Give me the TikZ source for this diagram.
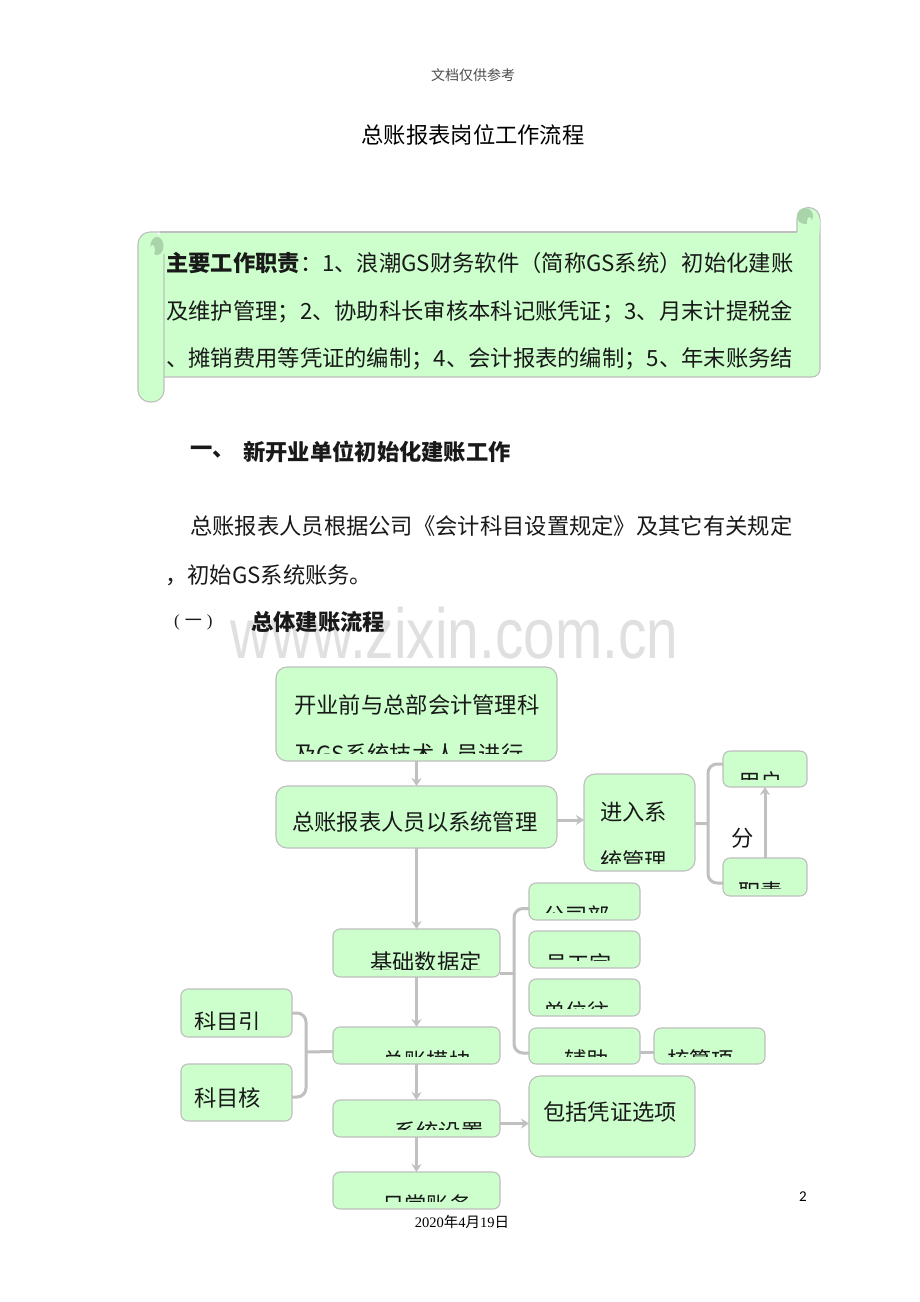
\documentclass[tikz,border=0pt]{standalone}
\usepackage{fontspec}
\setmainfont{Noto Sans CJK SC}
\newfontfamily\wmfont{Liberation Sans}
\newfontfamily\serfont{Liberation Serif}
\newfontfamily\numfont{Carlito}
\usetikzlibrary{arrows.meta}
\definecolor{boxfill}{HTML}{CCFFCC}
\definecolor{boxline}{HTML}{BEBEBE}
\definecolor{conncol}{HTML}{C0C0C0}
\definecolor{rolldark}{HTML}{A9D3A9}
\newcommand\myfs[1]{\fontsize{#1}{#1}\selectfont}
\newcommand\mkbox[6]{\node[#1, minimum width={(#4-#2)*1pt}, minimum height={(#5-#3)*1pt}] (#6) at ({(#2+#4)/2},{(#3+#5)/2}) {};}
\newcommand\cliptext[5]{\begin{scope}\clip ([yshift=8pt]#1.south west) rectangle (#1.north east);\node[txt, anchor=base west, text depth=0pt] (#5) at (#2,{#3+8.5}) {#4};\end{scope}}
\begin{document}
\begin{tikzpicture}[x=1pt,y=-1pt,
  box/.style={draw=boxline, fill=boxfill, line width=1.1pt, rounded corners=7pt, inner sep=0pt, outer sep=0pt},
  bigbox/.style={box, rounded corners=11pt},
  txt/.style={inner sep=0pt, anchor=west, font=\myfs{22.3}, text=black!90},
  cn/.style={draw=conncol, line width=3pt},
  arr/.style={cn, -{Stealth[length=8pt,width=10pt]}},
  sline/.style={draw=boxline, line width=1.1pt}
]
\useasboundingbox[fill=white] (0,0) rectangle (920,1302);

% watermark (behind everything)
\node[anchor=base west, inner sep=0pt, font=\wmfont\myfs{71}, text=black!12] (wm) at (230,658) {\scalebox{0.8}[1]{www.zixin.com.cn}};

% header and title
\node[inner sep=0pt, font=\myfs{14}, text=black!70] (hdr) at (473,75) {文档仅供参考};
\node[inner sep=0pt, font=\myfs{22.3}, text=black] (title) at (473,135) {总账报表岗位工作流程};

% scroll
\fill[boxfill] (160,232) -- (820,232) -- (820,369) arc[start angle=0,end angle=-90,radius=8pt] -- (160,377) -- cycle;
\draw[sline] (160,232) -- (797,232);
\draw[sline] (820,219) -- (820,369) arc[start angle=0,end angle=-90,radius=8pt] -- (160,377);
\fill[boxfill] (797,233) -- (797,219) arc[start angle=180,end angle=0,radius=11.5pt] -- (819.5,233) -- cycle;
\draw[sline] (797,232) -- (797,219) arc[start angle=180,end angle=0,radius=11.5pt];
\fill[rolldark] (805,216) circle (8pt);
\fill[boxfill] (809.5,222) ellipse [x radius=2.5pt, y radius=5pt];
\fill[boxfill, rounded corners=12pt] (138,232) rectangle (164,402);
\draw[sline, rounded corners=12pt] (164,254) -- (164,402) -- (138,402) -- (138,232) -- (175,232);
\fill[rolldark] (157,246) ellipse [x radius=6.5pt, y radius=9pt];
\fill[boxfill] (152.5,250) ellipse [x radius=2.5pt, y radius=5pt];

\node[txt] (s1) at (166,263) {\textbf{主要工作职责}：1、浪潮GS财务软件（简称GS系统）初始化建账};
\node[txt] (s2) at (166,312) {及维护管理；2、协助科长审核本科记账凭证；3、月末计提税金};
\node[txt] (s3) at (166,359) {、摊销费用等凭证的编制；4、会计报表的编制；5、年末账务结};

% headings and paragraph
\node[txt, font=\myfs{22.3}\bfseries] (h1a) at (190,452) {一、};
\node[txt, font=\myfs{22.3}\bfseries] (h1b) at (243,452) {新开业单位初始化建账工作};
\node[txt] (p1) at (190,526) {总账报表人员根据公司《会计科目设置规定》及其它有关规定};
\node[txt] (p2) at (165,575) {，初始GS系统账务。};
\node[txt, font=\myfs{17}] (h2a) at (174,622) {{\serfont(}\hspace{5pt}一\hspace{5pt}{\serfont)}};
\node[txt, font=\myfs{22.3}\bfseries] (h2b) at (251,622) {总体建账流程};

% boxes
\mkbox{bigbox}{276}{667}{557}{761}{b1}
\mkbox{bigbox}{276}{786}{557}{848}{b2}
\mkbox{bigbox}{584}{774}{695}{871}{b3}
\mkbox{box}{723}{751}{807}{787}{b4}
\mkbox{box}{723}{858}{807}{896}{b5}
\mkbox{box}{333}{929}{500}{977}{b6}
\mkbox{box}{529}{883}{640}{920}{b7}
\mkbox{box}{529}{931}{640}{968}{b8}
\mkbox{box}{529}{979}{640}{1016}{b9}
\mkbox{box}{529}{1028}{640}{1064}{b10}
\mkbox{box}{654}{1028}{765}{1064}{b11}
\mkbox{box}{333}{1027}{500}{1064}{b12}
\mkbox{box}{181}{989}{292}{1037}{b13}
\mkbox{box}{181}{1064}{292}{1121}{b14}
\mkbox{box}{333}{1100}{500}{1137}{b15}
\mkbox{bigbox}{529}{1076}{695}{1157}{b16}
\mkbox{box}{333}{1172}{500}{1209}{b17}

% box texts
\cliptext{b1}{294}{705}{开业前与总部会计管理科}{t1a}
\cliptext{b1}{294}{754}{及GS系统技术人员进行}{t1b}
\cliptext{b2}{292}{822}{总账报表人员以系统管理}{t2}
\cliptext{b3}{600}{812}{进入系}{t3a}
\cliptext{b3}{600}{861}{统管理}{t3b}
\cliptext{b4}{738}{782}{用户}{t4}
\cliptext{b5}{738}{892}{职责}{t5}
\cliptext{b6}{370}{962}{基础数据定}{t6}
\cliptext{b7}{543}{916}{公司部}{t7}
\cliptext{b8}{545}{964}{员工定}{t8}
\cliptext{b9}{543}{1012}{单位往}{t9}
\cliptext{b10}{564}{1060}{辅助}{t10}
\cliptext{b11}{667}{1060}{核算项}{t11}
\cliptext{b12}{382}{1061}{总账模块}{t12}
\cliptext{b13}{194}{1022}{科目引}{t13}
\cliptext{b14}{194}{1098}{科目核}{t14}
\cliptext{b15}{394}{1132}{系统设置}{t15}
\cliptext{b16}{543}{1112}{包括凭证选项}{t16}
\cliptext{b17}{382}{1205}{日常账务}{t17}

% connectors
\draw[arr] (b1.south) -- (b2.north);
\draw[arr] ([yshift=-3pt]b2.east) -- ([yshift=-3pt]b2.east -| b3.west);
\coordinate (j1) at (708,823);
\draw[cn] (b3.east |- j1) -- (j1);
\draw[cn, rounded corners=9pt] ([yshift=5pt]b4.west) -| (j1) |- ([yshift=-6pt]b5.west);
\draw[arr] (b5.north) -- (b4.south);
\node[txt, anchor=center] (fen) at (743,838) {分};
\draw[arr] (b2.south) -- (b6.north);
\coordinate (j2) at (514,973);
\draw[cn] ([yshift=-20pt]b6.east) -- (j2);
\draw[cn, rounded corners=9pt] ([yshift=-7pt]b7.west) -| (j2) |- ([yshift=-7pt]b10.west);
\draw[cn] ([yshift=-6pt]b10.east) -- ([yshift=-6pt]b11.west);
\draw[arr] (b6.south) -- (b12.north);
\coordinate (j3) at (306,1052);
\draw[cn] ([yshift=-6pt]b12.west) -- (j3);
\draw[cn, rounded corners=9pt] (b13.east) -| (j3) |- ([yshift=-4.5pt]b14.east);
\draw[arr] (b12.south) -- (b15.north);
\draw[arr] ([yshift=-5pt]b15.east) -- ([yshift=-5pt]b15.east -| b16.west);
\draw[arr] (b15.south) -- (b17.north);

% footer
\node[inner sep=0pt, font=\myfs{14.5}, text=black] (date) at (462,1222) {{\serfont 2020}年{\serfont 4}月{\serfont 19}日};
\node[inner sep=0pt, font=\numfont\myfs{15}, text=black] (pg) at (803,1197) {2};
\end{tikzpicture}
\end{document}
